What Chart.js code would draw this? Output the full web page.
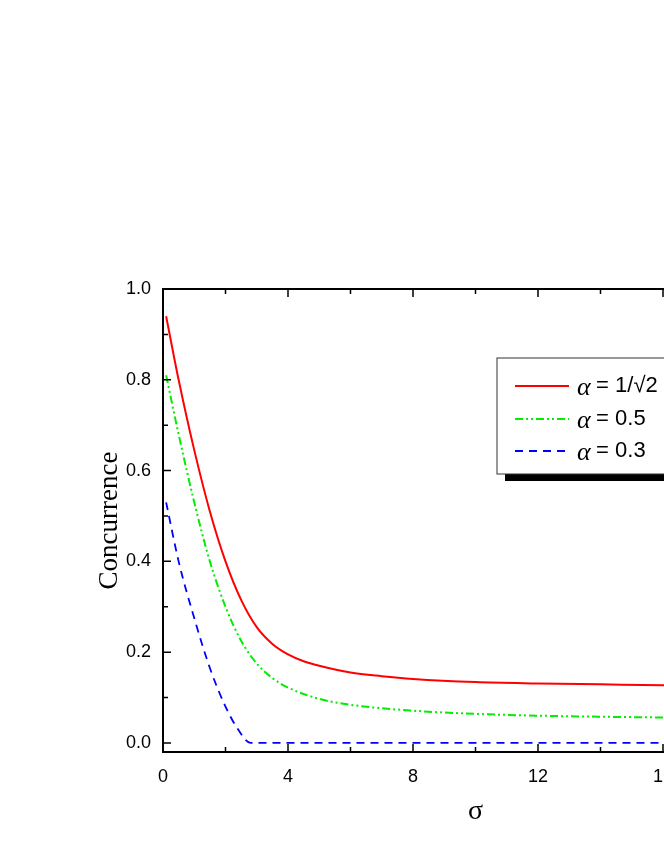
<!DOCTYPE html>
<html><head><meta charset="utf-8">
<script src="https://cdn.jsdelivr.net/npm/chart.js@4/dist/chart.umd.min.js"></script>
<style>html,body{margin:0;padding:0;overflow:hidden;background:#fff;width:664px;height:860px}canvas{display:block}</style>
</head><body>
<canvas id="c" width="900" height="860" style="width:900px;height:860px"></canvas>
<script>
const sigmaRed=[0.1,0.5,1,1.5,2,2.5,3,3.5,4,4.5,5,6,7,8,10,12,14,16,20];
const concRed=[0.94,0.80,0.645,0.51,0.40,0.315,0.255,0.218,0.195,0.18,0.17,0.155,0.147,0.141,0.134,0.131,0.129,0.127,0.125];
const sigmaGreen=[0.1,0.5,1,1.5,2,2.5,3,3.5,4,5,6,8,10,12,16,20];
const concGreen=[0.81,0.68,0.53,0.40,0.30,0.225,0.175,0.143,0.122,0.097,0.084,0.071,0.064,0.06,0.056,0.053];
const sigmaBlue=[0.1,0.5,1,1.5,2,2.4,2.8,20];
const concBlue=[0.53,0.40,0.275,0.165,0.08,0.03,0,0];
const labels=['1/\u221A2','0.5','0.3'];
const xTicks=[0,4,8,12,16,20];
const pts=(xs,ys)=>xs.map((x,i)=>({x,y:ys[i]}));
const inwardTicks={id:'inward',afterDraw(ch){
  const c=ch.ctx,a=ch.chartArea,xs=ch.scales.x,ys=ch.scales.y;
  c.save();c.strokeStyle='#000';c.lineWidth=2;
  c.strokeRect(a.left,a.top,a.right-a.left,a.bottom-a.top);
  c.lineWidth=1.5;
  for(let v=0;v<=20;v+=2){const p=xs.getPixelForValue(v),l=v%4===0?8:5;
    c.beginPath();c.moveTo(p,a.bottom);c.lineTo(p,a.bottom-l);c.moveTo(p,a.top);c.lineTo(p,a.top+l);c.stroke();}
  for(let i=0;i<=10;i++){const v=i/10,p=ys.getPixelForValue(v),l=i%2===0?8:5;
    c.beginPath();c.moveTo(a.left,p);c.lineTo(a.left+l,p);c.moveTo(a.right,p);c.lineTo(a.right-l,p);c.stroke();}
  // axis titles
  c.fillStyle='#000';c.textAlign='center';c.textBaseline='middle';
  c.font='28px "Liberation Serif"';c.fillText('\u03C3',(a.left+a.right)/2,812);
  c.save();c.translate(110,(a.top+a.bottom)/2);c.rotate(-Math.PI/2);
  c.font='27px "Liberation Serif"';c.fillText('Concurrence',0,0);c.restore();
  c.textAlign='left';
  // legend
  const bx=497,by=358,bw=200,bh=116;
  c.fillStyle='#000';c.fillRect(bx+8,by+bh,bw,7);
  c.fillStyle='#fff';c.fillRect(bx,by,bw,bh);
  c.strokeStyle='#333';c.lineWidth=1;c.strokeRect(bx,by,bw,bh);
  const rows=[386,419,451];
  ch.data.datasets.forEach((d,i)=>{
    c.strokeStyle=d.borderColor;c.lineWidth=d.borderWidth;c.setLineDash(d.borderDash||[]);
    c.beginPath();c.moveTo(515,rows[i]);c.lineTo(569,rows[i]);c.stroke();c.setLineDash([]);
    c.fillStyle='#000';c.textBaseline='middle';
    c.font='italic 26px "Liberation Serif"';c.fillText('\u03B1',577,rows[i]+2);
    c.font='22px "Liberation Sans"';c.fillText(' = '+labels[i],590,rows[i]);
  });
  c.restore();
}};
new Chart(document.getElementById('c'),{
  type:'line',
  data:{datasets:[
    {data:pts(sigmaRed,concRed),borderColor:'#ff0000',borderWidth:2,pointRadius:0,cubicInterpolationMode:'monotone',fill:false},
    {data:pts(sigmaGreen,concGreen),borderColor:'#00ee00',borderWidth:2,borderDash:[8,3,2,3,2,3],pointRadius:0,cubicInterpolationMode:'monotone',fill:false},
    {data:pts(sigmaBlue,concBlue),borderColor:'#0000ff',borderWidth:1.8,borderDash:[8,6],pointRadius:0,cubicInterpolationMode:'monotone',fill:false}
  ]},
  options:{responsive:false,animation:false,
    layout:{padding:{top:289,right:112,left:0,bottom:0}},
    plugins:{legend:{display:false},tooltip:{enabled:false}},
    scales:{
      x:{type:'linear',min:0,max:20,
        afterBuildTicks:s=>{s.ticks=xTicks.map(v=>({value:v}));},
        afterFit:s=>{s.height=108;},
        grid:{display:false,drawTicks:false},border:{display:false},
        ticks:{color:'#000',font:{family:'Liberation Sans',size:18},padding:14}},
      y:{min:-0.02,max:1.0,
        afterBuildTicks:s=>{s.ticks=[0,0.2,0.4,0.6,0.8,1.0].map(v=>({value:v}));},
        afterFit:s=>{s.width=163;},
        grid:{display:false,drawTicks:false},border:{display:false},
        ticks:{color:'#000',font:{family:'Liberation Sans',size:18},padding:12,callback:v=>v.toFixed(1)}}
    }},
  plugins:[inwardTicks]
});
</script></body></html>
